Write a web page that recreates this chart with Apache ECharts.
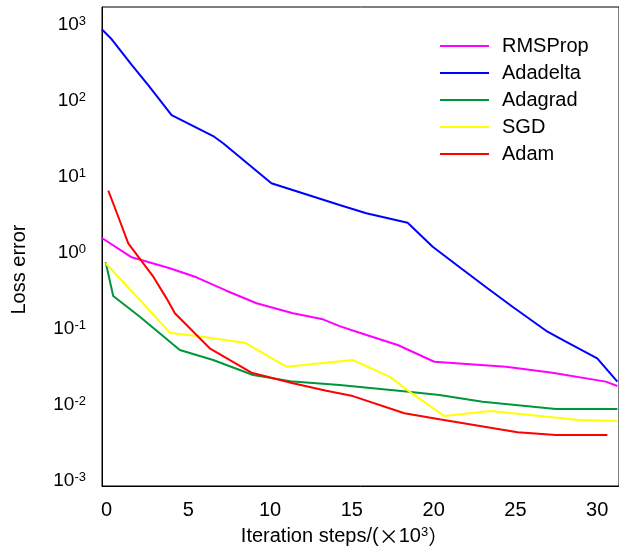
<!DOCTYPE html>
<html>
<head>
<meta charset="utf-8">
<script src="https://cdn.jsdelivr.net/npm/echarts@6/dist/echarts.min.js"></script>
<style>
  html, body { margin: 0; padding: 0; background: #fff; }
  #chart { width: 619px; height: 554px; }
</style>
</head>
<body>
<div id="chart"></div>
<script>
// Loss curves of five optimizers (log scale), x in thousands of iterations
const seriesNames = ['RMSProp', 'Adadelta', 'Adagrad', 'SGD', 'Adam'];
const seriesColors = ['#ff00ff', '#0000ff', '#00963c', '#ffff00', '#ff0000'];
const xTickValues = [0, 5, 10, 15, 20, 25, 30];
const yTickExponents = [-3, -2, -1, 0, 1, 2, 3];

const rmspropX = [-0.35, 1.54, 3.87, 5.50, 7.33, 9.17, 11.40, 13.23, 14.25, 15.47, 17.80, 20.04, 24.42, 27.26, 30.52, 31.23];
const rmspropY = [1.61, 0.877, 0.629, 0.479, 0.319, 0.218, 0.161, 0.134, 0.109, 0.0894, 0.0616, 0.0371, 0.0319, 0.0266, 0.0203, 0.0178];

const adadeltaX = [-0.29, 0.32, 1.54, 2.55, 3.98, 6.52, 7.13, 10.08, 14.25, 15.88, 18.41, 19.94, 21.67, 23.29, 24.82, 26.96, 28.08, 30.0, 31.23];
const adadeltaY = [878, 649, 298, 162, 65.4, 34.6, 27.8, 8.26, 4.28, 3.33, 2.50, 1.21, 0.629, 0.343, 0.196, 0.092, 0.068, 0.041, 0.0203];

const adagradX = [-0.05, 0.41, 2.04, 4.48, 6.52, 8.96, 11.40, 14.25, 18.32, 20.35, 22.99, 27.47, 31.23];
const adagradY = [0.755, 0.272, 0.145, 0.053, 0.0391, 0.0248, 0.0203, 0.0183, 0.0150, 0.01355, 0.01105, 0.00886, 0.00886];

const sgdX = [-0.05, 2.04, 3.87, 5.50, 8.45, 10.99, 15.06, 17.30, 18.52, 20.65, 23.50, 28.89, 31.23];
const sgdY = [0.732, 0.241, 0.0894, 0.0809, 0.066, 0.0319, 0.0391, 0.0236, 0.0150, 0.00716, 0.00834, 0.00635, 0.00616];

const adamX = [0.11, 0.72, 1.33, 2.25, 2.86, 3.67, 4.18, 6.31, 8.86, 11.40, 13.44, 15.06, 18.21, 20.35, 25.13, 27.47, 30.62];
const adamY = [6.6, 3.0, 1.34, 0.732, 0.488, 0.253, 0.161, 0.0557, 0.0266, 0.0193, 0.0154, 0.0131, 0.00778, 0.00648, 0.00438, 0.00403, 0.00403];

const seriesX = [rmspropX, adadeltaX, adagradX, sgdX, adamX];
const seriesY = [rmspropY, adadeltaY, adagradY, sgdY, adamY];

const FONT = '"Liberation Sans", Arial, sans-serif';

const chart = echarts.init(document.getElementById('chart'), null, { renderer: 'canvas' });

const series = seriesNames.map((name, i) => ({
  name: name,
  type: 'line',
  data: seriesX[i].map((x, k) => [x, seriesY[i][k]]),
  showSymbol: false,
  symbol: 'none',
  lineStyle: { color: seriesColors[i], width: 2 },
  itemStyle: { color: seriesColors[i] },
  silent: true
}));

chart.setOption({
  animation: false,
  backgroundColor: '#ffffff',
  grid: {
    left: 102, top: 7, right: -1, bottom: 68,
    show: true, borderColor: '#000', borderWidth: 1, backgroundColor: 'transparent'
  },
  legend: {
    orient: 'vertical',
    left: 440, top: 36,
    padding: 0,
    itemGap: 7,
    itemWidth: 49, itemHeight: 2,
    icon: 'rect',
    data: seriesNames,
    textStyle: {
      fontFamily: FONT, fontSize: 20, color: '#000',
      lineHeight: 20, padding: [0, 0, 0, 8]
    }
  },
  xAxis: {
    type: 'value',
    min: -0.275, max: 31.33,
    name: '{t|Iteration steps/(}{x|×}{t|10}{s|3}{x|）}',
    nameLocation: 'middle',
    nameGap: 40,
    nameTextStyle: {
      padding: [0, 32, 0, 0],
      rich: {
        t: { fontFamily: FONT, fontSize: 20, color: '#000' },
        x: { fontFamily: '"Noto Sans CJK SC", ' + FONT, fontSize: 20, color: '#000' },
        s: { fontFamily: FONT, fontSize: 13, color: '#000', verticalAlign: 'top', lineHeight: 14 }
      }
    },
    axisLine: { show: true, onZero: false, lineStyle: { color: '#000', width: 1 } },
    axisTick: { show: false },
    splitLine: { show: false },
    axisLabel: {
      customValues: xTickValues,
      fontFamily: FONT, fontSize: 20, color: '#000', margin: 14
    }
  },
  yAxis: {
    type: 'log',
    logBase: 10,
    min: Math.pow(10, -3.066),
    max: Math.pow(10, 3.237),
    name: 'Loss error',
    nameLocation: 'middle',
    nameGap: 73,
    nameTextStyle: {
      fontFamily: FONT, fontSize: 20, color: '#000',
      padding: [0, 46, 0, 0]
    },
    axisLine: { show: true, onZero: false, lineStyle: { color: '#000', width: 1 } },
    axisTick: { show: false },
    splitLine: { show: false },
    axisLabel: {
      customValues: yTickExponents.map(e => Math.pow(10, e)),
      margin: 16,
      formatter: function (v) {
        const e = Math.round(Math.log10(v));
        return '{b|10}{s|' + e + '}';
      },
      rich: {
        b: { fontFamily: FONT, fontSize: 19, color: '#000', lineHeight: 20 },
        s: { fontFamily: FONT, fontSize: 13, color: '#000', verticalAlign: 'top', lineHeight: 14 }
      }
    }
  },
  series: series
});
</script>
</body>
</html>
